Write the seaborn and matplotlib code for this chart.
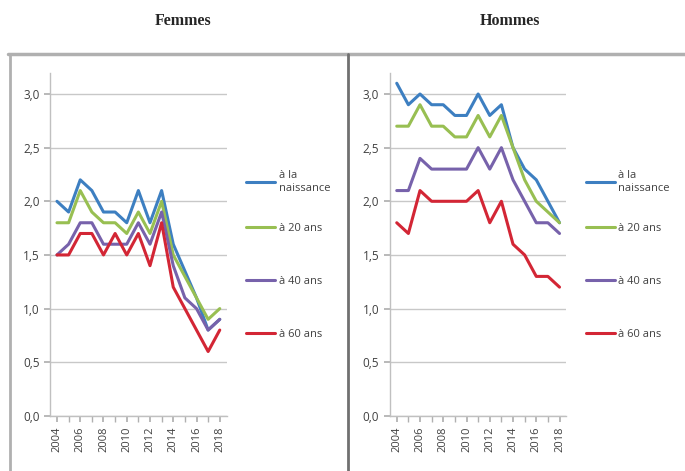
import numpy as np
import pandas as pd
import seaborn as sns
import matplotlib
matplotlib.use("Agg")
import matplotlib.pyplot as plt
from matplotlib.lines import Line2D
from matplotlib.ticker import MultipleLocator, FuncFormatter

years = list(range(2004, 2019))
series = ["à la\nnaissance", "à 20 ans", "à 40 ans", "à 60 ans"]
colors = ["#3d7fc1", "#98bf52", "#7762ab", "#d32635"]

femmes_naissance = [2.0, 1.9, 2.2, 2.1, 1.9, 1.9, 1.8, 2.1, 1.8, 2.1, 1.6, 1.35, 1.1, 0.8, 0.9]
femmes_20 = [1.8, 1.8, 2.1, 1.9, 1.8, 1.8, 1.7, 1.9, 1.7, 2.0, 1.5, 1.3, 1.1, 0.9, 1.0]
femmes_40 = [1.5, 1.6, 1.8, 1.8, 1.6, 1.6, 1.6, 1.8, 1.6, 1.9, 1.4, 1.1, 1.0, 0.8, 0.9]
femmes_60 = [1.5, 1.5, 1.7, 1.7, 1.5, 1.7, 1.5, 1.7, 1.4, 1.8, 1.2, 1.0, 0.8, 0.6, 0.8]

hommes_naissance = [3.1, 2.9, 3.0, 2.9, 2.9, 2.8, 2.8, 3.0, 2.8, 2.9, 2.5, 2.3, 2.2, 2.0, 1.8]
hommes_20 = [2.7, 2.7, 2.9, 2.7, 2.7, 2.6, 2.6, 2.8, 2.6, 2.8, 2.5, 2.2, 2.0, 1.9, 1.8]
hommes_40 = [2.1, 2.1, 2.4, 2.3, 2.3, 2.3, 2.3, 2.5, 2.3, 2.5, 2.2, 2.0, 1.8, 1.8, 1.7]
hommes_60 = [1.8, 1.7, 2.1, 2.0, 2.0, 2.0, 2.0, 2.1, 1.8, 2.0, 1.6, 1.5, 1.3, 1.3, 1.2]

panels = {
    "Femmes": [femmes_naissance, femmes_20, femmes_40, femmes_60],
    "Hommes": [hommes_naissance, hommes_20, hommes_40, hommes_60],
}


def long_frame(values):
    rows = []
    for name, vals in zip(series, values):
        for y, v in zip(years, vals):
            rows.append({"annee": y, "valeur": v, "serie": name})
    return pd.DataFrame(rows)


sns.set_theme(style="white")
plt.rcParams["font.family"] = ["Open Sans", "DejaVu Sans"]

fig = plt.figure(figsize=(6.85, 4.71), dpi=100)

# panel frames
fig.add_artist(Line2D([0.012, 1.0], [0.885, 0.885], color="#b0b0b0", lw=2.5))
fig.add_artist(Line2D([0.014, 0.014], [0.0, 0.885], color="#b0b0b0", lw=2))
fig.add_artist(Line2D([0.508, 0.508], [0.0, 0.885], color="#707070", lw=2))

axes_left = [0.073, 0.569]
title_x = [0.267, 0.745]
legend_x = [0.345, 0.841]

for i, (title, values) in enumerate(panels.items()):
    ax = fig.add_axes([axes_left[i], 0.117, 0.258, 0.729])
    df = long_frame(values)
    sns.lineplot(data=df, x="annee", y="valeur", hue="serie", palette=colors,
                 hue_order=series, linewidth=2.2, ax=ax, legend=False)
    ax.set_xlim(2003.4, 2018.6)
    ax.set_ylim(0, 3.2)
    ax.yaxis.set_major_locator(MultipleLocator(0.5))
    ax.yaxis.set_major_formatter(FuncFormatter(lambda v, _: f"{v:.1f}".replace(".", ",")))
    ax.set_xticks(years[::2])
    ax.set_xticks(years, minor=True)
    ax.tick_params(axis="x", which="both", rotation=90, labelsize=8, length=4,
                   color="#b0b0b0", bottom=True, labelcolor="#404040")
    ax.tick_params(axis="y", labelsize=8.5, length=4, color="#b0b0b0",
                   left=True, labelcolor="#404040")
    ax.grid(axis="y", color="#c8c8c8", lw=1)
    ax.set_xlabel("")
    ax.set_ylabel("")
    for s in ["top", "right"]:
        ax.spines[s].set_visible(False)
    for s in ["left", "bottom"]:
        ax.spines[s].set_color("#c0c0c0")
        ax.spines[s].set_linewidth(1)
    fig.text(title_x[i], 0.955, title, ha="center", va="center",
             family="Liberation Serif", fontweight="bold", fontsize=11.5)

    # legend: the two-line first entry kept apart so the others stay evenly spaced
    handles = [Line2D([], [], color=c, lw=2.2) for c in colors]
    opts = dict(loc="upper left", frameon=False, fontsize=8, labelspacing=3.8,
                handlelength=2.6, handletextpad=0.3, labelcolor="#404040")
    fig.legend(handles[:1], series[:1], bbox_to_anchor=(legend_x[i], 0.66), **opts)
    fig.legend(handles[1:], series[1:], bbox_to_anchor=(legend_x[i], 0.548), **opts)

fig.savefig("out.png", dpi=100)
